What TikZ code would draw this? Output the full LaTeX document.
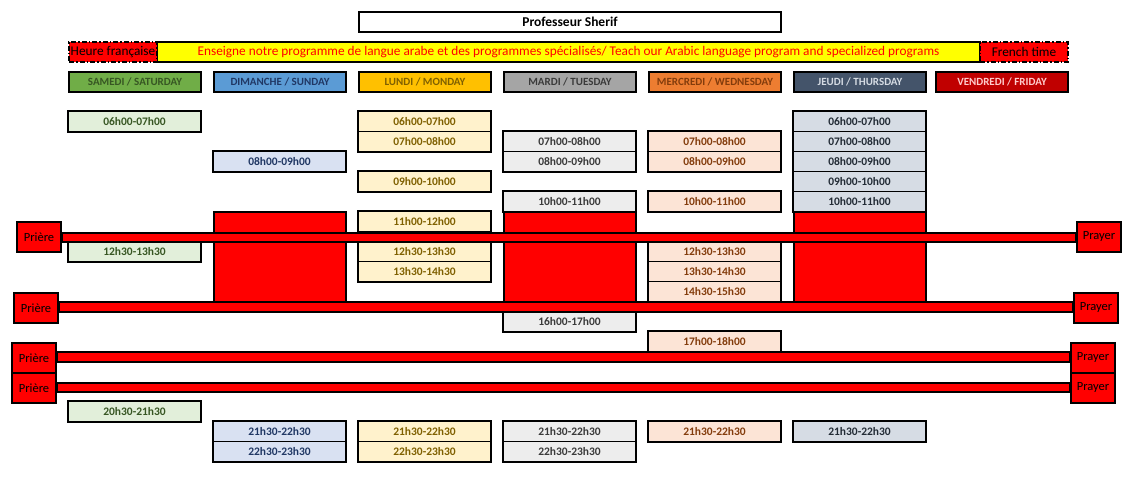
\documentclass[tikz,border=0pt]{standalone}
\usepackage{fontspec}
\setmainfont{Carlito}
\usetikzlibrary{calc}
\definecolor{satH}{HTML}{70AD47}\definecolor{satT}{HTML}{375623}\definecolor{satF}{HTML}{E2EFDA}
\definecolor{sunH}{HTML}{5B9BD5}\definecolor{sunT}{HTML}{203764}\definecolor{sunF}{HTML}{D9E1F2}
\definecolor{monH}{HTML}{FFC000}\definecolor{monT}{HTML}{7F6000}\definecolor{monF}{HTML}{FFF2CC}
\definecolor{tueH}{HTML}{A5A5A5}\definecolor{tueT}{HTML}{3A3A3A}\definecolor{tueF}{HTML}{EDEDED}
\definecolor{wedH}{HTML}{ED7D31}\definecolor{wedT}{HTML}{833C0C}\definecolor{wedF}{HTML}{FCE4D6}
\definecolor{thuH}{HTML}{44546A}\definecolor{thuHT}{HTML}{D6DCE4}\definecolor{thuT}{HTML}{222B35}\definecolor{thuF}{HTML}{D6DCE4}
\definecolor{friH}{HTML}{C00000}\definecolor{friT}{HTML}{FFCCCC}
\definecolor{pureRed}{HTML}{FF0000}\definecolor{pureYel}{HTML}{FFFF00}
\tikzset{
  base/.style={anchor=north west, inner sep=0pt, minimum width=132pt, minimum height=20pt},
  hdr/.style={base, draw, line width=2pt, font=\bfseries\fontsize{11}{13}\selectfont},
  cell/.style={base, draw, line width=1pt, font=\bfseries\fontsize{11.5}{13}\selectfont},
  grp/.style={draw, line width=2pt},
  satS/.style={cell, fill=satF, text=satT},
  sunS/.style={cell, fill=sunF, text=sunT},
  monS/.style={cell, fill=monF, text=monT},
  tueS/.style={cell, fill=tueF, text=tueT},
  wedS/.style={cell, fill=wedF, text=wedT},
  thuS/.style={cell, fill=thuF, text=thuT},
  redblk/.style={base, draw, line width=2pt, fill=pureRed, minimum height=90pt},
  pray/.style={anchor=north west, inner sep=0pt, draw, line width=2pt, fill=pureRed, minimum width=44pt, minimum height=29.5pt, font=\fontsize{12.5}{14}\selectfont},
  bar/.style={draw, line width=2pt, fill=pureRed},
  dashbox/.style={anchor=north west, inner sep=0pt, draw, line width=2pt, fill=pureRed, dash pattern=on 5pt off 2pt on 1.5pt off 2pt, minimum width=88pt, minimum height=20pt, font=\fontsize{13.3}{15}\selectfont},
}
\begin{document}
\begin{tikzpicture}[x=1pt,y=-1pt]
\useasboundingbox (0,0) rectangle (1140,482);
% title
\node[base, draw, line width=2pt, minimum width=422pt, font=\bfseries\fontsize{13.5}{15}\selectfont] (title) at (358,11) {Professeur Sherif};
% banner
\node[base, draw, line width=2pt, fill=pureYel, minimum width=823pt, text=pureRed, font=\fontsize{13.3}{15}\selectfont] (banner) at (156,41) {Enseigne notre programme de langue arabe et des programmes spécialisés/ Teach our Arabic language program and specialized programs};
\node[dashbox] (heure) at (68,41) {Heure française};
\node[dashbox] (ftime) at (979,41) {French time};
% day headers
\node[hdr, fill=satH, text=satT] (hSat) at (68,71) {SAMEDI / SATURDAY};
\node[hdr, fill=sunH, text=sunT] (hSun) at (213,71) {DIMANCHE / SUNDAY};
\node[hdr, fill=monH, text=monT] (hMon) at (358,71) {LUNDI / MONDAY};
\node[hdr, fill=tueH, text=tueT] (hTue) at (503,71) {MARDI / TUESDAY};
\node[hdr, fill=wedH, text=wedT] (hWed) at (648,71) {MERCREDI / WEDNESDAY};
\node[hdr, fill=thuH, text=thuHT] (hThu) at (793,71) {JEUDI / THURSDAY};
\node[hdr, fill=friH, text=friT] (hFri) at (935,71) {VENDREDI / FRIDAY};
% Saturday
\node[satS] (sat1) at (68,111) {06h00-07h00};
\node[satS] (sat2) at (68,241) {12h30-13h30};
\node[satS] (sat3) at (68,401) {20h30-21h30};
\foreach \n in {sat1,sat2,sat3} \draw[grp] (\n.north west) rectangle (\n.south east);
% Sunday
\node[sunS] (sun1) at (213,151) {08h00-09h00};
\node[redblk] (sunR) at (213,211) {};
\node[sunS] (sun2) at (213,421) {21h30-22h30};
\node[sunS] (sun3) at (213,441) {22h30-23h30};
\draw[grp] (sun1.north west) rectangle (sun1.south east);
\draw[grp] (sun2.north west) rectangle (sun3.south east);
% Monday
\node[monS] (mon1) at (358,111) {06h00-07h00};
\node[monS] (mon2) at (358,131) {07h00-08h00};
\node[monS] (mon3) at (358,171) {09h00-10h00};
\node[monS] (mon4) at (358,211) {11h00-12h00};
\node[monS] (mon5) at (358,241) {12h30-13h30};
\node[monS] (mon6) at (358,261) {13h30-14h30};
\node[monS] (mon7) at (358,421) {21h30-22h30};
\node[monS] (mon8) at (358,441) {22h30-23h30};
\draw[grp] (mon1.north west) rectangle (mon2.south east);
\draw[grp] (mon3.north west) rectangle (mon3.south east);
\draw[grp] (mon4.north west) rectangle (mon4.south east);
\draw[grp] (mon5.north west) rectangle (mon6.south east);
\draw[grp] (mon7.north west) rectangle (mon8.south east);
% Tuesday
\node[tueS] (tue1) at (503,131) {07h00-08h00};
\node[tueS] (tue2) at (503,151) {08h00-09h00};
\node[tueS] (tue3) at (503,191) {10h00-11h00};
\node[redblk] (tueR) at (503,211) {};
\node[tueS] (tue4) at (503,311) {16h00-17h00};
\node[tueS] (tue5) at (503,421) {21h30-22h30};
\node[tueS] (tue6) at (503,441) {22h30-23h30};
\draw[grp] (tue1.north west) rectangle (tue2.south east);
\draw[grp] (tue3.north west) rectangle (tue3.south east);
\draw[grp] (tue4.north west) rectangle (tue4.south east);
\draw[grp] (tue5.north west) rectangle (tue6.south east);
% Wednesday
\node[wedS] (wed1) at (648,131) {07h00-08h00};
\node[wedS] (wed2) at (648,151) {08h00-09h00};
\node[wedS] (wed3) at (648,191) {10h00-11h00};
\node[wedS] (wed4) at (648,241) {12h30-13h30};
\node[wedS] (wed5) at (648,261) {13h30-14h30};
\node[wedS] (wed6) at (648,281) {14h30-15h30};
\node[wedS] (wed7) at (648,331) {17h00-18h00};
\node[wedS] (wed8) at (648,421) {21h30-22h30};
\draw[grp] (wed1.north west) rectangle (wed2.south east);
\draw[grp] (wed3.north west) rectangle (wed3.south east);
\draw[grp] (wed4.north west) rectangle (wed6.south east);
\draw[grp] (wed7.north west) rectangle (wed7.south east);
\draw[grp] (wed8.north west) rectangle (wed8.south east);
% Thursday
\node[thuS] (thu1) at (793,111) {06h00-07h00};
\node[thuS] (thu2) at (793,131) {07h00-08h00};
\node[thuS] (thu3) at (793,151) {08h00-09h00};
\node[thuS] (thu4) at (793,171) {09h00-10h00};
\node[thuS] (thu5) at (793,191) {10h00-11h00};
\node[redblk] (thuR) at (793,211) {};
\node[thuS] (thu6) at (793,421) {21h30-22h30};
\draw[grp] (thu1.north west) rectangle (thu5.south east);
\draw[grp] (thu6.north west) rectangle (thu6.south east);
% prayers
\node[pray] (pl1) at (16,221) {Prière};
\node[pray] (pr1) at (1076,221) {Prayer};
\node[pray] (pl2) at (13,292) {Prière};
\node[pray] (pr2) at (1073,292) {Prayer};
\node[pray] (pl3) at (11,342) {Prière};
\node[pray] (pr3) at (1070,342) {Prayer};
\node[pray] (pl4) at (11,372) {Prière};
\node[pray] (pr4) at (1070,372) {Prayer};
\draw[bar] ($(pl1.east)+(0,-3.8)$) rectangle ($(pr1.west)+(0,5.2)$);
\draw[bar] ($(pl2.east)+(0,-5.5)$) rectangle ($(pr2.west)+(0,3.8)$);
\draw[bar] ($(pl3.east)+(0,-5.5)$) rectangle ($(pr3.west)+(0,3.8)$);
\draw[bar] ($(pl4.east)+(0,-4.8)$) rectangle ($(pr4.west)+(0,4.5)$);
\end{tikzpicture}
\end{document}
